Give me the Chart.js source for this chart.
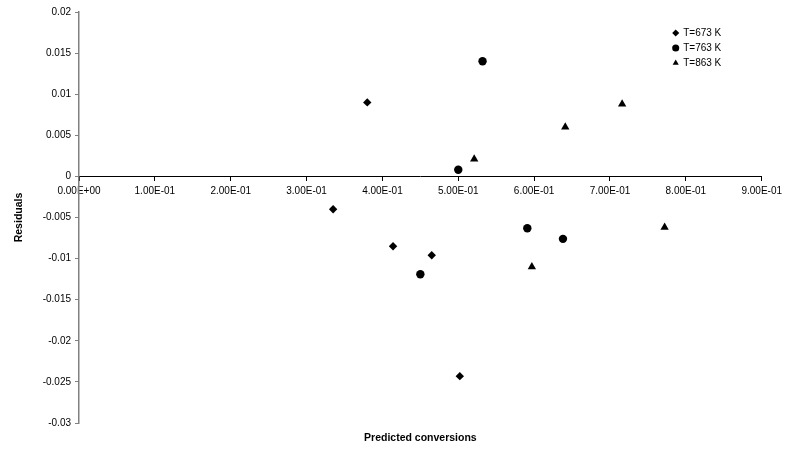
<!DOCTYPE html>
<html>
<head>
<meta charset="utf-8">
<script src="https://cdn.jsdelivr.net/npm/chart.js@4.4.1/dist/chart.umd.min.js"></script>
<style>
  html, body { margin: 0; padding: 0; background: #fff; }
  #wrap { width: 787px; height: 455px; }
</style>
</head>
<body>
<div id="wrap"><canvas id="residChart" width="787" height="455"></canvas></div>
<script>
// predicted conversion (x) and residual (y) per temperature
const x673 = [0.335, 0.380, 0.414, 0.465, 0.502];
const r673 = [-0.0040, 0.0090, -0.0085, -0.0096, -0.0243];
const x763 = [0.450, 0.500, 0.532, 0.591, 0.638];
const r763 = [-0.0119, 0.0008, 0.0140, -0.0063, -0.0076];
const x863 = [0.521, 0.597, 0.641, 0.716, 0.772];
const r863 = [0.0021, -0.0110, 0.0060, 0.0088, -0.0062];

const seriesNames = ['T=673 K', 'T=763 K', 'T=863 K'];

const xTicks = [0, 0.1, 0.2, 0.3, 0.4, 0.5, 0.6, 0.7, 0.8, 0.9];
const xTickLabels = ['0.00E+00', '1.00E-01', '2.00E-01', '3.00E-01', '4.00E-01',
                     '5.00E-01', '6.00E-01', '7.00E-01', '8.00E-01', '9.00E-01'];
const yTicks = [-0.03, -0.025, -0.02, -0.015, -0.01, -0.005, 0, 0.005, 0.01, 0.015, 0.02];
const yTickLabels = ['-0.03', '-0.025', '-0.02', '-0.015', '-0.01', '-0.005',
                     '0', '0.005', '0.01', '0.015', '0.02'];

function toPoints(xs, ys) {
    return xs.map(function (x, i) { return { x: x, y: ys[i] }; });
}

const FONT = "'Liberation Sans', Arial, sans-serif";

// put the legend in the top right corner of the plot area
const legendCorner = {
    id: 'legendCorner',
    afterLayout(chart) {
        const area = chart.chartArea;
        chart.legend.left = area.right - 93.5;
        chart.legend.top = area.top + 11;
    }
};

const ctx = document.getElementById('residChart').getContext('2d');

new Chart(ctx, {
    type: 'scatter',
    data: {
        datasets: [{
            label: seriesNames[0],
            data: toPoints(x673, r673),
            pointStyle: 'rectRot',
            pointRadius: 4.2,
            backgroundColor: '#000',
            borderColor: '#000',
            borderWidth: 0
        }, {
            label: seriesNames[1],
            data: toPoints(x763, r763),
            pointStyle: 'circle',
            pointRadius: 4.2,
            backgroundColor: '#000',
            borderColor: '#000',
            borderWidth: 0
        }, {
            label: seriesNames[2],
            data: toPoints(x863, r863),
            pointStyle: 'triangle',
            pointRadius: 4.8,
            backgroundColor: '#000',
            borderColor: '#000',
            borderWidth: 0
        }]
    },
    options: {
        responsive: false,
        animation: false,
        events: [],
        layout: {
            padding: { left: 0, top: 12, right: 24, bottom: 0 }
        },
        scales: {
            x: {
                type: 'linear',
                position: { y: 0 },
                min: 0,
                max: 0.9,
                afterFit: function (scale) { scale.height = 0; },
                afterBuildTicks: function (scale) {
                    scale.ticks = xTicks.map(function (v) { return { value: v }; });
                },
                ticks: {
                    autoSkip: false,
                    maxRotation: 0,
                    padding: 5,
                    color: '#000',
                    font: { family: FONT, size: 10 },
                    callback: function (value, index) { return xTickLabels[index]; }
                },
                grid: {
                    drawOnChartArea: false,
                    drawTicks: true,
                    tickLength: 4,
                    color: '#000'
                },
                border: { display: true, color: '#000', width: 1 }
            },
            y: {
                type: 'linear',
                position: 'left',
                min: -0.03,
                max: 0.02,
                afterFit: function (scale) { scale.width = 79; },
                afterBuildTicks: function (scale) {
                    scale.ticks = yTicks.map(function (v) { return { value: v }; });
                },
                ticks: {
                    autoSkip: false,
                    padding: 4,
                    color: '#000',
                    font: { family: FONT, size: 10 },
                    callback: function (value, index) { return yTickLabels[index]; }
                },
                grid: {
                    drawOnChartArea: false,
                    drawTicks: true,
                    tickLength: 4,
                    color: '#808080'
                },
                border: { display: true, color: '#808080', width: 1.5 },
                title: {
                    display: true,
                    text: 'Residuals',
                    color: '#000',
                    font: { family: FONT, size: 10.5, weight: 'bold' },
                    padding: { top: 12.5, bottom: 0 }
                }
            }
        },
        plugins: {
            legend: {
                position: 'chartArea',
                align: 'start',
                labels: {
                    usePointStyle: true,
                    boxWidth: 5,
                    boxHeight: 5,
                    padding: 5,
                    color: '#000',
                    font: { family: FONT, size: 10 }
                }
            },
            title: {
                display: true,
                position: 'bottom',
                fullSize: false,
                text: 'Predicted conversions',
                color: '#000',
                font: { family: FONT, size: 10.5, weight: 'bold' },
                padding: { top: 8.4, bottom: 11 }
            },
            tooltip: { enabled: false }
        }
    },
    plugins: [legendCorner]
});
</script>
</body>
</html>
